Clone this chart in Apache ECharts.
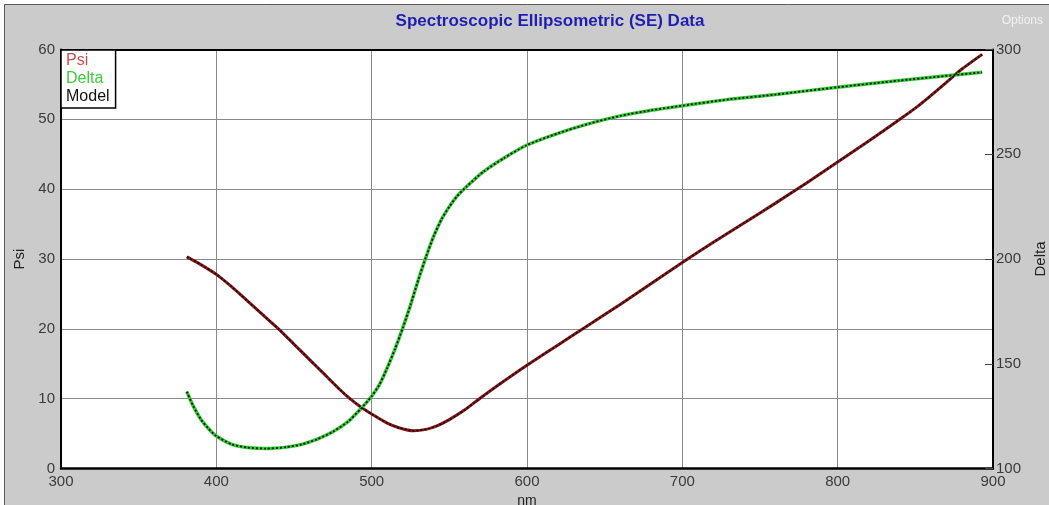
<!DOCTYPE html>
<html>
<head>
<meta charset="utf-8">
<script src="https://cdn.jsdelivr.net/npm/echarts@6/dist/echarts.min.js"></script>
<style>
html,body{margin:0;padding:0;background:#ffffff;}
#chart{width:1049px;height:505px;}
</style>
</head>
<body>
<div id="chart"></div>
<script>
// ---- Data ----
const xTicks = [300, 400, 500, 600, 700, 800, 900];
const psiTicks = [0, 10, 20, 30, 40, 50, 60];
const deltaTicks = [100, 150, 200, 250, 300];

const psiNm  = [381, 390, 400, 410, 420, 430, 440, 450, 460, 470, 480, 486, 493, 500, 510, 518, 527, 535, 542, 550, 560, 570, 585, 600, 620, 640, 660, 680, 700, 720, 740, 760, 780, 800, 820, 840, 850, 860, 870, 880, 893];
const psiVal = [30.3, 29.2, 27.8, 26.0, 24.0, 22.0, 20.0, 17.8, 15.6, 13.4, 11.2, 10.0, 8.8, 7.8, 6.5, 5.8, 5.4, 5.6, 6.1, 7.0, 8.4, 10.1, 12.5, 14.8, 17.7, 20.6, 23.5, 26.5, 29.5, 32.4, 35.2, 38.0, 40.9, 43.9, 46.9, 50.0, 51.6, 53.4, 55.3, 57.2, 59.3];

const deltaNm  = [381, 385, 390, 395, 400, 410, 420, 432, 445, 455, 465, 475, 485, 493, 500, 505, 510, 515, 520, 525, 530, 535, 540, 545, 550, 555, 561, 572, 585, 600, 620, 640, 660, 680, 700, 730, 760, 800, 840, 893];
const deltaVal = [136.7, 130.0, 123.5, 119.0, 115.5, 111.5, 110.0, 109.5, 110.2, 111.5, 114.0, 117.5, 122.5, 128.5, 134.5, 140.0, 148.0, 157.0, 167.0, 178.0, 190.0, 201.0, 211.0, 219.0, 225.0, 230.0, 234.5, 241.7, 248.1, 254.4, 260.0, 264.6, 268.3, 271.0, 273.2, 276.2, 278.5, 282.0, 285.2, 289.1];

const legendNames = ['Psi', 'Delta', 'Model'];

const psiData = psiNm.map((x, i) => [x, psiVal[i]]);
const deltaData = deltaNm.map((x, i) => [x, deltaVal[i]]);

const FONT = '"Liberation Sans", Arial, sans-serif';

const chart = echarts.init(document.getElementById('chart'));
chart.setOption({
  animation: false,
  backgroundColor: '#ffffff',
  graphic: [{
    type: 'rect', z: -100, silent: true,
    shape: { x: 4.5, y: 4.5, width: 1060, height: 520 },
    style: { fill: '#cbcbcb', stroke: '#5a5a5a', lineWidth: 1 }
  }],
  title: [{
    text: 'Spectroscopic Ellipsometric (SE) Data',
    left: 545, top: 8, textAlign: 'center',
    textStyle: { fontFamily: FONT, fontSize: 17, fontWeight: 'bold', color: '#1e1eb4' }
  }, {
    text: 'Options',
    right: 1, top: 10,
    textStyle: { fontFamily: FONT, fontSize: 12, fontWeight: 'normal', color: '#f2f2f2' }
  }],
  legend: {
    orient: 'vertical',
    left: 61, top: 50,
    icon: 'none',
    itemWidth: 0, itemHeight: 0, itemGap: 2,
    padding: [3, 6, 3, 0],
    backgroundColor: '#ffffff',
    borderColor: '#000000', borderWidth: 1.5,
    selectedMode: false,
    data: [
      { name: legendNames[0], textStyle: { color: '#c85050' } },
      { name: legendNames[1], textStyle: { color: '#3ccc3c' } },
      { name: legendNames[2], textStyle: { color: '#111111' } }
    ],
    textStyle: { fontFamily: FONT, fontSize: 16, lineHeight: 16 }
  },
  grid: {
    left: 61, right: 56, top: 49.5, bottom: 36.5,
    containLabel: false, outerBoundsMode: 'none',
    show: true, backgroundColor: '#ffffff', borderWidth: 0
  },
  xAxis: [{
    type: 'value', position: 'bottom',
    min: xTicks[0], max: xTicks[xTicks.length - 1], interval: 100,
    name: 'nm', nameLocation: 'middle', nameGap: 26,
    nameTextStyle: { fontFamily: FONT, fontSize: 14, color: '#222' },
    axisLine: { show: true, onZero: false, lineStyle: { color: '#000', width: 2.5 } },
    axisTick: { show: false },
    axisLabel: { fontFamily: FONT, fontSize: 15, color: '#3a3a3a', margin: 6 },
    splitLine: { show: true, lineStyle: { color: '#8a8a8a', width: 1 } }
  }, {
    type: 'value', position: 'top',
    min: xTicks[0], max: xTicks[xTicks.length - 1], interval: 100,
    axisLine: { show: true, onZero: false, lineStyle: { color: '#000', width: 2 } },
    axisTick: { show: false }, axisLabel: { show: false }, splitLine: { show: false }
  }],
  yAxis: [{
    type: 'value', position: 'left',
    min: psiTicks[0], max: psiTicks[psiTicks.length - 1], interval: 10,
    name: 'Psi', nameLocation: 'middle', nameGap: 34, nameRotate: 90,
    nameTextStyle: { fontFamily: FONT, fontSize: 15, color: '#222' },
    axisLine: { show: true, onZero: false, lineStyle: { color: '#000', width: 2 } },
    axisTick: { show: false },
    axisLabel: { fontFamily: FONT, fontSize: 15, color: '#3a3a3a', margin: 6 },
    splitLine: { show: true, lineStyle: { color: '#8a8a8a', width: 1 } }
  }, {
    type: 'value', position: 'right',
    min: deltaTicks[0], max: deltaTicks[deltaTicks.length - 1], interval: 50,
    name: 'Delta', nameLocation: 'middle', nameGap: 40, nameRotate: 90,
    nameTextStyle: { fontFamily: FONT, fontSize: 15, color: '#222' },
    axisLine: { show: true, onZero: false, lineStyle: { color: '#000', width: 2 } },
    axisTick: { show: true, inside: true, length: 8, lineStyle: { color: '#444', width: 1 } },
    axisLabel: { fontFamily: FONT, fontSize: 15, color: '#3a3a3a', margin: 3 },
    splitLine: { show: false }
  }],
  series: [{
    name: 'Psi', type: 'line', xAxisIndex: 0, yAxisIndex: 0,
    data: psiData, smooth: 0.2, showSymbol: false,
    lineStyle: { color: '#8c1414', width: 3 }, z: 2
  }, {
    name: 'Delta', type: 'line', xAxisIndex: 0, yAxisIndex: 1,
    data: deltaData, smooth: 0.2, showSymbol: false,
    lineStyle: { color: '#33cc33', width: 3.5 }, z: 2
  }, {
    name: 'Model', type: 'line', xAxisIndex: 0, yAxisIndex: 0,
    data: psiData, smooth: 0.2, showSymbol: false,
    lineStyle: { color: '#111', width: 1.8, type: [2, 2] }, z: 3
  }, {
    name: 'Model', type: 'line', xAxisIndex: 0, yAxisIndex: 1,
    data: deltaData, smooth: 0.2, showSymbol: false,
    lineStyle: { color: '#111', width: 1.8, type: [2, 2] }, z: 3
  }]
});
</script>
</body>
</html>
